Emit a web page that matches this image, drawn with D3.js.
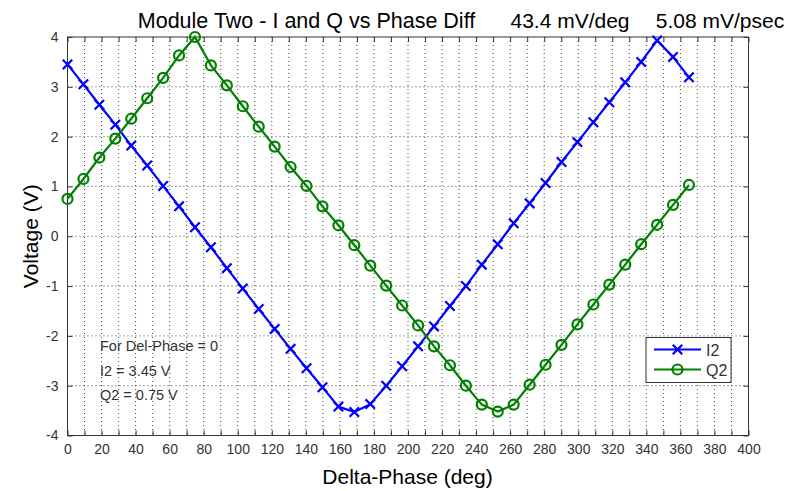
<!DOCTYPE html>
<html>
<head>
<meta charset="utf-8">
<script src="https://cdn.jsdelivr.net/npm/d3@7"></script>
<style>
  body { margin: 0; background: #fff; }
  text { font-family: "Liberation Sans", Arial, sans-serif; }
</style>
</head>
<body>
<div id="chart"></div>
<script>
(function(){
	var width = 802,
	    height = 491;

	// phase step between samples (deg)
	var phaseStep = 9.36;

	var i2Values = [3.45, 3.05, 2.64, 2.24, 1.82, 1.42, 1.01, 0.60, 0.18, -0.22,
	                -0.64, -1.05, -1.46, -1.86, -2.26, -2.65, -3.03, -3.42, -3.53, -3.37,
	                -3.00, -2.61, -2.21, -1.81, -1.40, -1.00, -0.57, -0.16, 0.26, 0.66,
	                1.07, 1.49, 1.89, 2.29, 2.69, 3.09, 3.50, 3.93, 3.60, 3.19];

	var q2Values = [0.75, 1.15, 1.58, 1.96, 2.36, 2.77, 3.18, 3.63, 4.00, 3.43,
	                3.03, 2.61, 2.20, 1.80, 1.39, 1.01, 0.60, 0.22, -0.18, -0.59,
	                -0.99, -1.39, -1.79, -2.21, -2.59, -3.00, -3.38, -3.52, -3.38, -2.98,
	                -2.58, -2.18, -1.77, -1.37, -0.97, -0.57, -0.16, 0.23, 0.63, 1.03];

	var xTickLabels = d3.range(0, 401, 20);
	var xGrid = d3.range(0, 401, 10);
	var yTickLabels = d3.range(-4, 5, 1);

	var notes = ["For Del-Phase = 0", "I2 = 3.45 V", "Q2 = 0.75 V"];

	var margin = {left: 67.5, right: 53.5, top: 37, bottom: 55.5};
	var w = width - margin.left - margin.right,
	    h = height - margin.top - margin.bottom;

	var svg = d3.select("#chart")
	  .append("svg")
	  .attr("width", width)
	  .attr("height", height);

	var g = svg.append("g")
	  .attr("transform", "translate(" + margin.left + "," + margin.top + ")");

	var x = d3.scaleLinear().domain([0, 400]).range([0, w]);
	var y = d3.scaleLinear().domain([-4, 4]).range([h, 0]);

	// dotted grid
	g.selectAll(".vgrid")
	  .data(xGrid.slice(1, -1))
	  .enter().append("line")
	  .attr("x1", function(d) { return x(d) })
	  .attr("x2", function(d) { return x(d) })
	  .attr("y1", 0).attr("y2", h)
	  .attr("stroke", "#444")
	  .attr("stroke-width", 1)
	  .attr("stroke-dasharray", "1,3");

	g.selectAll(".hgrid")
	  .data(yTickLabels.slice(1, -1))
	  .enter().append("line")
	  .attr("y1", function(d) { return y(d) })
	  .attr("y2", function(d) { return y(d) })
	  .attr("x1", 0).attr("x2", w)
	  .attr("stroke", "#444")
	  .attr("stroke-width", 1)
	  .attr("stroke-dasharray", "1,3");

	// plain hyphen for negatives, like the original
	var plain = function(d) { return String(d) };

	// axes: ticks pointing inward, on all four sides
	var xBottom = g.append("g")
	  .attr("transform", "translate(0," + h + ")")
	  .call(d3.axisBottom(x).tickValues(xGrid).tickSizeInner(-5).tickSizeOuter(0)
	    .tickFormat(function(d) { return xTickLabels.indexOf(d) >= 0 ? plain(d) : "" }).tickPadding(9));
	var xTop = g.append("g")
	  .call(d3.axisTop(x).tickValues(xGrid).tickSizeInner(-5).tickSizeOuter(0).tickFormat(""));
	var yLeft = g.append("g")
	  .call(d3.axisLeft(y).tickValues(yTickLabels).tickSizeInner(-5).tickSizeOuter(0)
	    .tickFormat(plain).tickPadding(9));
	var yRight = g.append("g")
	  .attr("transform", "translate(" + w + ",0)")
	  .call(d3.axisRight(y).tickValues(yTickLabels).tickSizeInner(-5).tickSizeOuter(0).tickFormat(""));

	[xBottom, xTop, yLeft, yRight].forEach(function(a) {
		a.select(".domain").remove();
		a.selectAll(".tick line").attr("stroke", "#333");
		a.selectAll("text")
		  .style("font-family", "'Liberation Sans', Arial, sans-serif")
		  .style("font-size", "14px")
		  .attr("fill", "#333");
	});

	g.append("rect")
	  .attr("width", w).attr("height", h)
	  .attr("fill", "none")
	  .attr("stroke", "#333")
	  .attr("stroke-width", 1);

	var line = d3.line()
	  .x(function(d, i) { return x(i * phaseStep) })
	  .y(function(d) { return y(d) });

	// I2 series
	g.append("path")
	  .datum(i2Values)
	  .attr("d", line)
	  .attr("fill", "none")
	  .attr("stroke", "#0000ff")
	  .attr("stroke-width", 2.2);

	var cross = d3.symbol().type(d3.symbolX).size(60);
	g.selectAll(".i2")
	  .data(i2Values)
	  .enter().append("path")
	  .attr("class", "i2")
	  .attr("d", cross)
	  .attr("transform", function(d, i) { return "translate(" + x(i * phaseStep) + "," + y(d) + ")" })
	  .attr("fill", "none")
	  .attr("stroke", "#0000ff")
	  .attr("stroke-width", 2.2);

	// Q2 series
	g.append("path")
	  .datum(q2Values)
	  .attr("d", line)
	  .attr("fill", "none")
	  .attr("stroke", "#008000")
	  .attr("stroke-width", 2.2);

	g.selectAll(".q2")
	  .data(q2Values)
	  .enter().append("circle")
	  .attr("class", "q2")
	  .attr("cx", function(d, i) { return x(i * phaseStep) })
	  .attr("cy", function(d) { return y(d) })
	  .attr("r", 5)
	  .attr("fill", "none")
	  .attr("stroke", "#008000")
	  .attr("stroke-width", 2.2);

	// annotation
	g.selectAll(".note")
	  .data(notes)
	  .enter().append("text")
	  .attr("class", "note")
	  .attr("x", 32.5)
	  .attr("y", function(d, i) { return 351 - margin.top + i * 24.5 })
	  .attr("font-size", "14.5px")
	  .attr("fill", "#333")
	  .text(function(d) { return d });

	// legend
	var legend = g.append("g")
	  .attr("transform", "translate(" + (646 - margin.left) + "," + (337.5 - margin.top) + ")");
	legend.append("rect")
	  .attr("width", 85).attr("height", 45)
	  .attr("fill", "#fff")
	  .attr("stroke", "#333");
	var items = [
	  {name: "I2", color: "#0000ff", mark: "x"},
	  {name: "Q2", color: "#008000", mark: "o"}
	];
	items.forEach(function(it, i) {
		var ly = 12 + i * 20;
		legend.append("line")
		  .attr("x1", 8).attr("x2", 55)
		  .attr("y1", ly).attr("y2", ly)
		  .attr("stroke", it.color).attr("stroke-width", 2.2);
		if (it.mark === "x") {
			legend.append("path")
			  .attr("d", cross)
			  .attr("transform", "translate(31.5," + ly + ")")
			  .attr("fill", "none").attr("stroke", it.color).attr("stroke-width", 2.2);
		} else {
			legend.append("circle")
			  .attr("cx", 31.5).attr("cy", ly).attr("r", 5)
			  .attr("fill", "none").attr("stroke", it.color).attr("stroke-width", 2.2);
		}
		legend.append("text")
		  .attr("x", 60).attr("y", ly + 6)
		  .attr("font-size", "16px")
		  .attr("fill", "#333")
		  .text(it.name);
	});

	// titles
	svg.append("text")
	  .attr("x", 306.5).attr("y", 28)
	  .attr("text-anchor", "middle")
	  .attr("font-size", "21.5px")
	  .text("Module Two - I and Q vs Phase Diff");
	svg.append("text")
	  .attr("x", 570).attr("y", 28)
	  .attr("text-anchor", "middle")
	  .attr("font-size", "21px")
	  .text("43.4 mV/deg");
	svg.append("text")
	  .attr("x", 720).attr("y", 28)
	  .attr("text-anchor", "middle")
	  .attr("font-size", "21px")
	  .text("5.08 mV/psec");

	svg.append("text")
	  .attr("transform", "translate(37.5," + (margin.top + h / 2) + ") rotate(-90)")
	  .attr("text-anchor", "middle")
	  .attr("font-size", "21px")
	  .text("Voltage (V)");
	svg.append("text")
	  .attr("x", 407.5).attr("y", 484)
	  .attr("text-anchor", "middle")
	  .attr("font-size", "21px")
	  .text("Delta-Phase (deg)");
})();
</script>
</body>
</html>
